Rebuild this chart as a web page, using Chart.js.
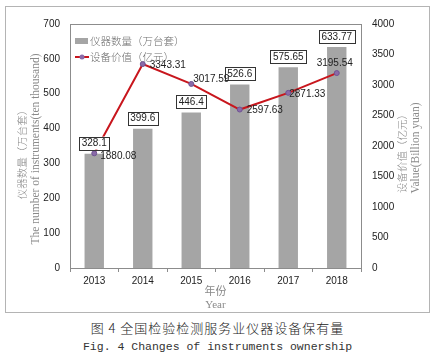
<!DOCTYPE html>
<html lang="zh">
<head>
  <meta charset="UTF-8">
  <title>全国检验检测服务业仪器设备保有量</title>
  <script src="https://cdn.jsdelivr.net/npm/chart.js"></script>
  <style>
    body { margin: 0; background: #fff; width: 435px; height: 358px; overflow: hidden; position: relative; }
    #box { position: absolute; left: 5px; top: 6px; width: 423px; height: 305px; border: 1px solid #b4b4b4; }
    .cap { position: absolute; left: 0; width: 435px; text-align: center; color: #222; white-space: pre; }
    #cap1 { top: 318px; font: 300 13px "Noto Sans CJK SC", sans-serif; letter-spacing: 1px; }
    #cap2 { top: 340px; font: 11.5px "Liberation Mono", monospace; color: #333; }
  </style>
</head>
<body>
  <div id="box"><canvas id="myChart" width="423" height="305"></canvas></div>
  <div class="cap" id="cap1">图 4 全国检验检测服务业仪器设备保有量</div>
  <div class="cap" id="cap2">Fig. 4 Changes of instruments ownership</div>

  <script>
    const years = ['2013', '2014', '2015', '2016', '2017', '2018'];
    const instruments = [328.1, 399.6, 446.4, 526.6, 575.65, 633.77];
    const equipValue = [1880.08, 3343.31, 3017.59, 2597.63, 2871.33, 3195.54];

    const leftTitle = ['仪器数量（万台套）', 'The number of instruments(ten thousand)'];
    const rightTitle = ['设备价值（亿元）', 'Value(Billion yuan)'];
    const xTitle = ['年份', 'Year'];

    // label placement next to each line point: dx, dy, align
    const lineLabelPos = [[6, 3, 'left'], [7, 1, 'left'], [2, -5, 'left'], [7, 1, 'left'], [1, 1, 'left'], [-2, -10, 'center']];

    const numFont = '10px "Liberation Sans", Arial, sans-serif';
    const grey = '#8a8a8a';

    const extras = {
      id: 'extras',
      beforeDraw(chart) {
        const ctx = chart.ctx;
        const a = chart.chartArea;
        ctx.save();
        ctx.strokeStyle = '#8c8c8c';
        ctx.lineWidth = 1;
        ctx.strokeRect(Math.round(a.left) + 0.5, Math.round(a.top) + 0.5,
          Math.round(a.right - a.left), Math.round(a.bottom - a.top));
        ctx.restore();
      },
      afterDatasetsDraw(chart) {
        const ctx = chart.ctx;
        const a = chart.chartArea;
        ctx.save();
        ctx.font = numFont;
        ctx.textBaseline = 'middle';

        // boxed bar labels
        chart.getDatasetMeta(0).data.forEach((bar, i) => {
          const txt = String(instruments[i]);
          const w = ctx.measureText(txt).width + 5;
          const h = 13;
          const x = bar.x - w / 2;
          const y = bar.y - 4 - h;
          ctx.fillStyle = '#fff';
          ctx.fillRect(x, y, w, h);
          ctx.strokeStyle = '#333';
          ctx.lineWidth = 1;
          ctx.strokeRect(Math.round(x) + 0.5, Math.round(y) + 0.5, Math.round(w), h);
          ctx.fillStyle = '#222';
          ctx.textAlign = 'center';
          ctx.fillText(txt, bar.x, y + h / 2 + 0.5);
        });

        // line labels
        chart.getDatasetMeta(1).data.forEach((pt, i) => {
          const p = lineLabelPos[i];
          ctx.fillStyle = '#222';
          ctx.textAlign = p[2];
          ctx.fillText(String(equipValue[i].toFixed(2)), pt.x + p[0], pt.y + p[1]);
        });

        // legend inside plot area
        const ds = chart.data.datasets;
        const lx = a.left + 5;
        const ly1 = a.top + 17;
        const ly2 = a.top + 33;
        ctx.fillStyle = ds[0].backgroundColor;
        ctx.fillRect(lx, ly1 - 3, 13, 6);
        ctx.strokeStyle = ds[1].borderColor;
        ctx.lineWidth = 2;
        ctx.beginPath();
        ctx.moveTo(lx, ly2);
        ctx.lineTo(lx + 14, ly2);
        ctx.stroke();
        ctx.beginPath();
        ctx.arc(lx + 7, ly2, 2.5, 0, Math.PI * 2);
        ctx.fillStyle = ds[1].pointBackgroundColor;
        ctx.fill();
        ctx.font = '300 10.5px "Noto Sans CJK SC", sans-serif';
        ctx.fillStyle = '#707070';
        ctx.textAlign = 'left';
        ctx.fillText(ds[0].label, lx + 15, ly1);
        ctx.fillText(ds[1].label, lx + 15, ly2);

        // rotated axis titles
        const titles = [
          [leftTitle[0], 16, 145, '300 10.5px "Noto Sans CJK SC", sans-serif'],
          [leftTitle[1], 30, 142, '11.5px "Liberation Serif", serif'],
          [rightTitle[0], 396, 144, '300 10.5px "Noto Sans CJK SC", sans-serif'],
          [rightTitle[1], 410, 141, '11.5px "Liberation Serif", serif']
        ];
        ctx.fillStyle = grey;
        ctx.textAlign = 'center';
        titles.forEach(t => {
          ctx.save();
          ctx.translate(t[1], t[2]);
          ctx.rotate(-Math.PI / 2);
          ctx.font = t[3];
          ctx.fillText(t[0], 0, 0);
          ctx.restore();
        });
        ctx.restore();
      }
    };

    const tickFont = { family: '"Liberation Sans", Arial', size: 10 };

    const ctx = document.getElementById('myChart').getContext('2d');
    new Chart(ctx, {
      type: 'bar',
      data: {
        labels: years,
        datasets: [
          {
            type: 'bar',
            label: '仪器数量（万台套）',
            data: instruments,
            backgroundColor: '#a5a5a5',
            barPercentage: 0.4,
            categoryPercentage: 1,
            yAxisID: 'y',
            order: 2
          },
          {
            type: 'line',
            label: '设备价值（亿元）',
            data: equipValue,
            borderColor: '#c8161d',
            borderWidth: 2,
            pointRadius: 2.5,
            pointBackgroundColor: '#8a6aa8',
            pointBorderColor: '#6f5493',
            pointBorderWidth: 1,
            fill: false,
            tension: 0,
            yAxisID: 'y1',
            order: 1
          }
        ]
      },
      options: {
        responsive: false,
        animation: false,
        layout: { padding: { top: 9, left: 0, right: 0, bottom: 0 } },
        plugins: {
          legend: { display: false },
          tooltip: { enabled: false }
        },
        scales: {
          x: {
            grid: { display: true, drawOnChartArea: false, offset: true, tickLength: 4, color: '#8c8c8c' },
            border: { display: false },
            ticks: { color: '#222', font: tickFont, padding: 3 },
            title: {
              display: true,
              text: xTitle,
              color: grey,
              font: { family: '"Liberation Serif", "Noto Sans CJK SC", serif', size: 11, lineHeight: 1.2 },
              padding: { top: 0, bottom: 0 }
            },
            afterFit(scale) { scale.height = 44; }
          },
          y: {
            position: 'left',
            min: 0,
            max: 700,
            ticks: { stepSize: 100, color: '#222', font: tickFont, padding: 10, callback: v => String(v) },
            grid: { display: false, drawTicks: false },
            border: { display: false },
            afterFit(scale) { scale.width = 64; }
          },
          y1: {
            position: 'right',
            min: 0,
            max: 4000,
            ticks: { stepSize: 500, color: '#222', font: tickFont, padding: 11, callback: v => String(v) },
            grid: { display: false, drawTicks: false },
            border: { display: false },
            afterFit(scale) { scale.width = 68; }
          }
        }
      },
      plugins: [extras]
    });
  </script>
</body>
</html>
